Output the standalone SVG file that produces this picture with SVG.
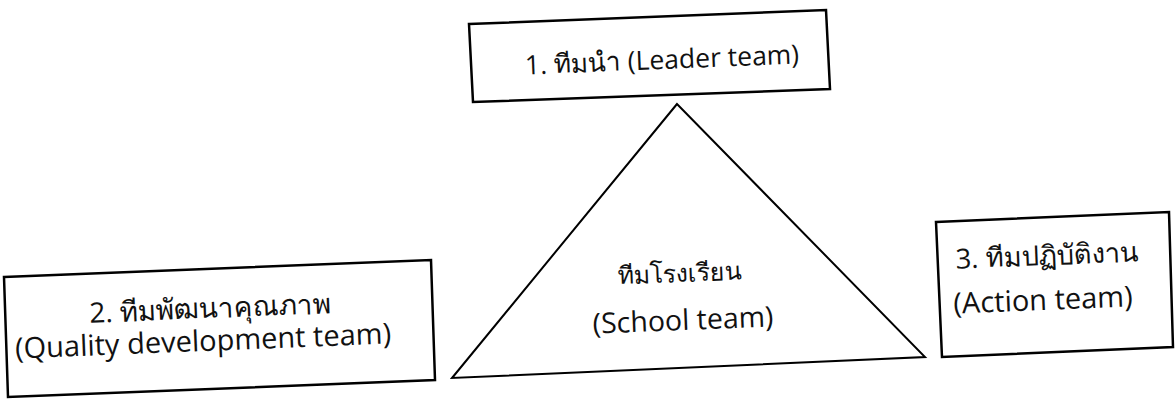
<svg xmlns="http://www.w3.org/2000/svg" width="1176" height="401" viewBox="0 0 1176 401">
  <style>
    .box { fill: #ffffff; stroke: #000000; stroke-width: 2.5; stroke-linejoin: miter; }
    .tri { fill: #ffffff; stroke: #000000; stroke-width: 2; }
    .lbl { font-family: "Open Sans", "Noto Sans", "DejaVu Sans", sans-serif; fill: #111111; text-anchor: middle; }
  </style>
  <rect x="0" y="0" width="1176" height="401" fill="#ffffff"/>
  <g id="connectors"></g>
  <g id="node-school">
    <polygon class="tri" points="677,104 452,378 925,357"/>
    <text class="lbl" font-size="25" x="680" y="282" transform="rotate(-2.3 680 272)">ทีมโรงเรียน</text>
    <text class="lbl" font-size="28.5" x="683" y="330" transform="rotate(-2.3 683 320)">(School team)</text>
  </g>
  <g id="node-leader">
    <polygon class="box" points="469,24 826,10 830,89 473,102"/>
    <text class="lbl" font-size="26.5" x="662" y="69" transform="rotate(-2.3 662 60)">1. ทีมนำ (Leader team)</text>
  </g>
  <g id="node-quality">
    <polygon class="box" points="4,277 431,260 435,380 8,397"/>
    <text class="lbl" font-size="28" x="210" y="318" transform="rotate(-2.3 210 308)">2. ทีมพัฒนาคุณภาพ</text>
    <text class="lbl" font-size="29" x="203" y="351" transform="rotate(-2.3 203 340)">(Quality development team)</text>
  </g>
  <g id="node-action">
    <polygon class="box" points="936,222 1169,212 1173,347 942,357"/>
    <text class="lbl" font-size="27.5" x="1047" y="265" transform="rotate(-2.3 1047 256)">3. ทีมปฏิบัติงาน</text>
    <text class="lbl" font-size="29" x="1043" y="310" transform="rotate(-2.3 1043 300)">(Action team)</text>
  </g>
</svg>
